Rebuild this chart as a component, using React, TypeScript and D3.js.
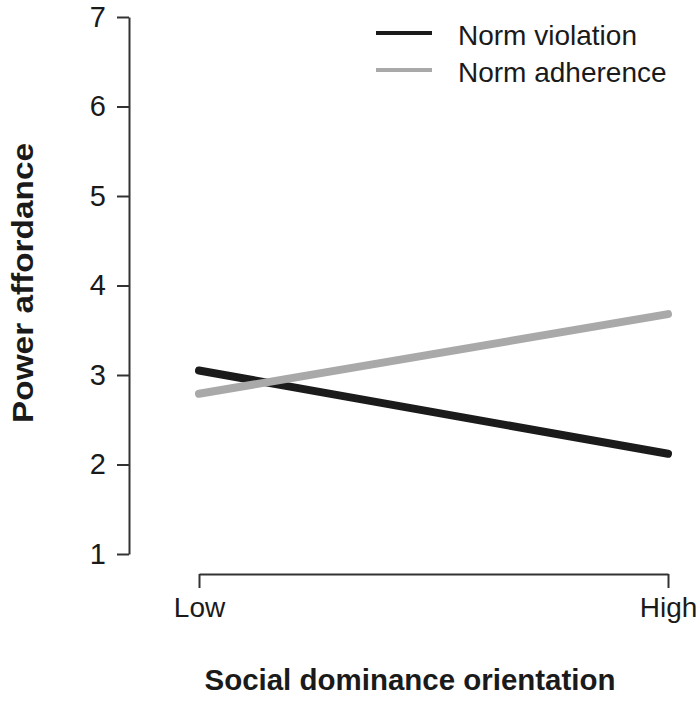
// @ts-nocheck
import React, { useEffect, useRef } from 'react';
import * as d3 from 'd3';

const groups = ['Low', 'High'];
const normViolation = [3.05, 2.12];
const normAdherence = [2.79, 3.68];
const yTicks = [1, 2, 3, 4, 5, 6, 7];
const seriesNames = ['Norm violation', 'Norm adherence'];
const seriesColors = ['#1b1b1b', '#a9a9a9'];

const App = () => {
  const svgRef = useRef(null);

  useEffect(() => {
    const width = 700;
    const height = 702;
    const font = 'Liberation Sans, Arial, Helvetica, sans-serif';

    const svg = d3.select(svgRef.current)
      .attr('width', width)
      .attr('height', height)
      .attr('viewBox', [0, 0, width, height]);

    svg.selectAll('*').remove();

    svg.append('rect').attr('width', width).attr('height', height).attr('fill', '#fff');

    const x = d3.scalePoint().domain(groups).range([199, 668]);
    const y = d3.scaleLinear().domain([1, 7]).range([554, 17]);

    // y axis, R style: ticks outward, no outer ticks
    const yAxis = svg.append('g')
      .attr('transform', 'translate(129,0)')
      .call(d3.axisLeft(y).tickValues(yTicks).tickSize(12).tickSizeOuter(0).tickPadding(11).tickFormat(d3.format('d')));

    // x axis
    const xAxis = svg.append('g')
      .attr('transform', 'translate(0,574)')
      .call(d3.axisBottom(x).tickSize(14).tickSizeOuter(0).tickPadding(9));

    [yAxis, xAxis].forEach(g => {
      g.attr('font-family', font).attr('font-size', 28);
      g.select('.domain').attr('stroke', '#333').attr('stroke-width', 2);
      g.selectAll('.tick line').attr('stroke', '#333').attr('stroke-width', 2);
      g.selectAll('.tick text').attr('fill', '#1a1a1a');
    });
    yAxis.attr('font-size', 29);

    const line = d3.line().x((d, i) => x(groups[i])).y(d => y(d));

    [normViolation, normAdherence].forEach((vals, i) => {
      svg.append('path')
        .datum(vals)
        .attr('d', line)
        .attr('fill', 'none')
        .attr('stroke', seriesColors[i])
        .attr('stroke-width', 8)
        .attr('stroke-linecap', 'round');
    });

    // legend
    const legend = svg.append('g').attr('font-family', font).attr('font-size', 28);
    seriesNames.forEach((name, i) => {
      const ly = 33 + i * 37;
      legend.append('line')
        .attr('x1', 376).attr('x2', 432)
        .attr('y1', ly).attr('y2', ly)
        .attr('stroke', seriesColors[i])
        .attr('stroke-width', 4);
      legend.append('text')
        .attr('x', 458).attr('y', ly + 12)
        .attr('fill', '#1a1a1a')
        .text(name);
    });

    // axis titles
    svg.append('text')
      .attr('x', 410).attr('y', 690)
      .attr('text-anchor', 'middle')
      .attr('font-family', font)
      .attr('font-weight', 'bold')
      .attr('font-size', 30)
      .attr('textLength', 411)
      .attr('lengthAdjust', 'spacingAndGlyphs')
      .attr('fill', '#1a1a1a')
      .text('Social dominance orientation');

    svg.append('text')
      .attr('transform', 'translate(33,283) rotate(-90)')
      .attr('text-anchor', 'middle')
      .attr('font-family', font)
      .attr('font-weight', 'bold')
      .attr('font-size', 29)
      .attr('textLength', 280)
      .attr('lengthAdjust', 'spacingAndGlyphs')
      .attr('fill', '#1a1a1a')
      .text('Power affordance');
  }, []);

  return <svg ref={svgRef} style={{ position: 'absolute', left: 0, top: 0, display: 'block' }}></svg>;
};

export default App;
